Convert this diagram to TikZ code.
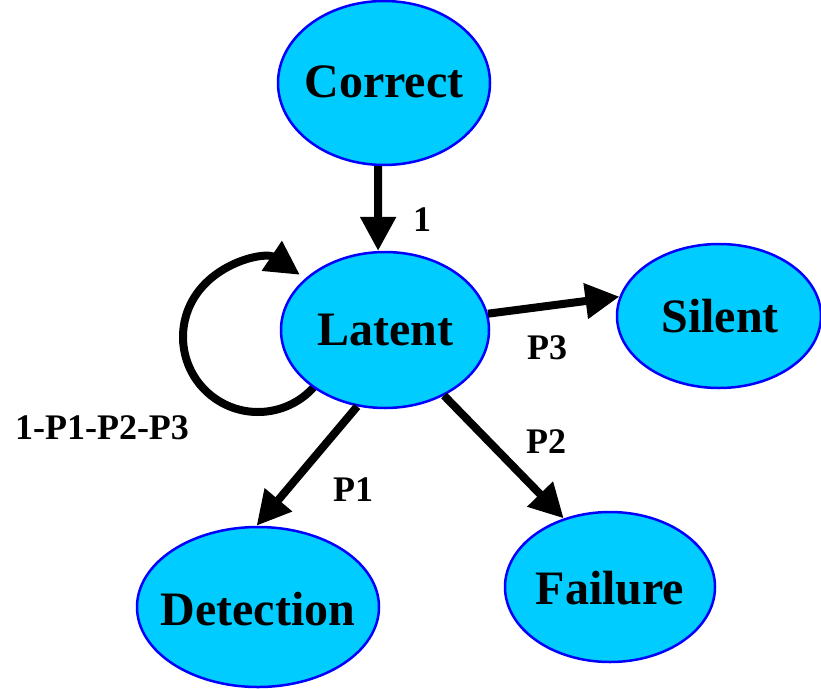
\documentclass[tikz,border=0pt]{standalone}
\usepackage{fontspec}
\setmainfont{Liberation Serif}
\usetikzlibrary{shapes.geometric,arrows.meta}
\definecolor{statefill}{RGB}{0,204,255}
\definecolor{stateline}{RGB}{0,0,255}
\begin{document}
\begin{tikzpicture}[x=1pt,y=1pt,
  state/.style={ellipse,draw=stateline,fill=statefill,line width=2.5pt,inner sep=0pt},
  statetext/.style={font=\fontsize{48}{52}\selectfont\bfseries},
  lbl/.style={font=\fontsize{36}{40}\selectfont\bfseries},
  edge/.style={line width=8pt,-{Triangle[length=34pt,width=34pt]}}]
\useasboundingbox (0,0) rectangle (821,-688);
% self loop (drawn first, under the ellipse)
\coordinate (loopc) at (258,-337);
\draw[edge] ([shift={(-35:75)}]loopc) arc[start angle=-35,end angle=-304,radius=75];
\node[state,minimum width=212pt,minimum height=164pt] (correct) at (384,-83) {};
\node[state,minimum width=208pt,minimum height=156pt] (latent) at (385,-330) {};
\node[state,minimum width=204pt,minimum height=144pt] (silent) at (719,-316) {};
\node[state,minimum width=242pt,minimum height=160pt] (detection) at (258,-607) {};
\node[state,minimum width=210pt,minimum height=150pt] (failure) at (610,-587) {};
\node[statetext] (tcorrect) at (384,-82) {Correct};
\node[statetext] (tlatent) at (385,-330) {Latent};
\node[statetext] (tsilent) at (720,-316) {Silent};
\node[statetext] (tdetection) at (258,-609) {Detection};
\node[statetext] (tfailure) at (610,-588) {Failure};
\draw[edge] (correct.-94) -- (latent.95);
\draw[edge] (latent.9) -- (silent.169);
\draw[edge] (latent.250) -- (detection.91);
\draw[edge] (latent.-48) -- (failure.124);
\node[lbl] (l1) at (422,-220) {1};
\node[lbl] (lp3) at (547,-348) {P3};
\node[lbl] (lp2) at (546,-442) {P2};
\node[lbl] (lp1) at (353,-490) {P1};
\node[lbl] (lloop) at (102,-428) {1-P1-P2-P3};
\end{tikzpicture}
\end{document}
